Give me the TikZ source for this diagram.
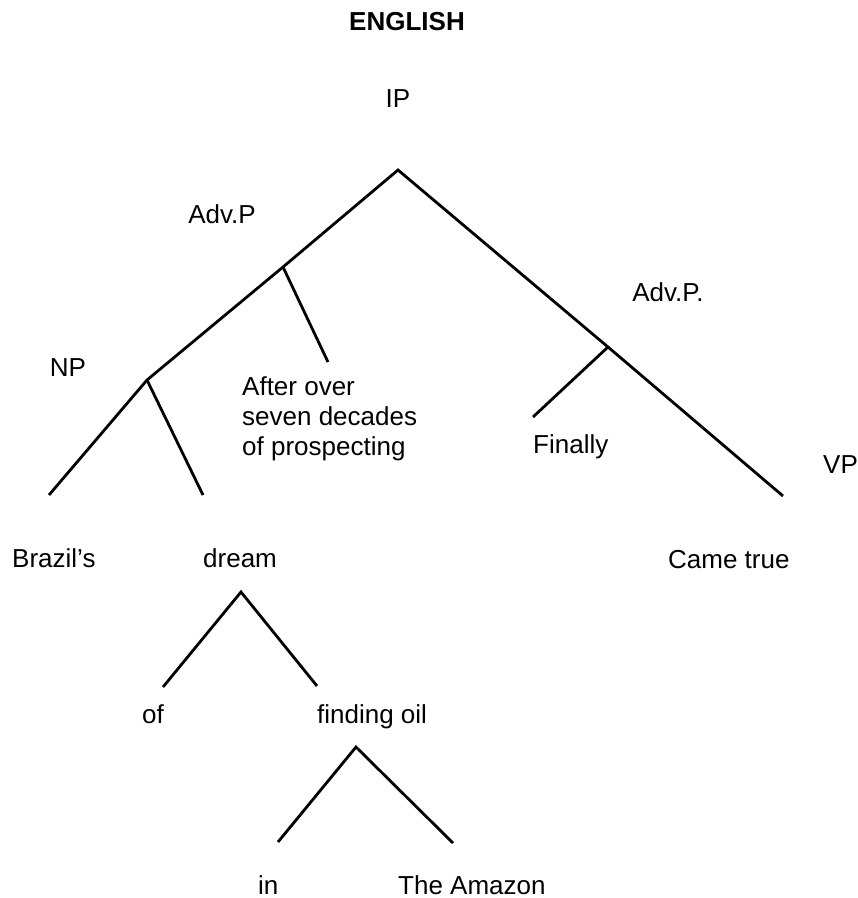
\documentclass[tikz,border=0pt]{standalone}
\usepackage{fontspec}
\setmainfont{Liberation Sans}
\begin{document}
\begin{tikzpicture}[x=1pt,y=-1pt,
  branch/.style={line width=2.8pt,line cap=butt,line join=miter},
  lbl/.style={inner sep=0pt,anchor=base west,font=\fontsize{26}{30}\selectfont},
  lblc/.style={inner sep=0pt,anchor=base,font=\fontsize{26}{30}\selectfont}]
\useasboundingbox (0,0) rectangle (858,898);

% title and category labels
\node[lblc,font=\fontsize{26}{30}\selectfont\bfseries] (title) at (407,30) {ENGLISH};
\node[lblc] (ipl) at (398,107) {IP};
\node[lblc] (advpl) at (222,223) {Adv.P};
\node[lblc] (advpr) at (668,301) {Adv.P.};
\node[lblc] (npl) at (68,376) {NP};
\node[lbl] (vpl) at (823,473) {VP};

% words (the three-line node sits on the baseline of its last line)
\node[lbl,align=left] (after) at (242,455) {After over\\seven decades\\of prospecting};
\node[lbl] (finally) at (533,453) {Finally};
\node[lbl] (brazil) at (12,567) {Brazil’s};
\node[lbl] (dream) at (203,567) {dream};
\node[lbl] (came) at (668,568) {Came true};
\node[lbl] (of) at (142,723) {of};
\node[lbl] (finding) at (317,723) {finding oil};
\node[lbl] (in) at (258,894) {in};
\node[lbl] (amazon) at (398,894) {The Amazon};

% branching points and branch ends
\coordinate (ip) at (398,170);
\coordinate (jadv) at (283,267);
\coordinate (jnp) at (147,380);
\coordinate (jfin) at (608,347);
\coordinate (eafter) at (328,362);
\coordinate (ebrazil) at (49,495);
\coordinate (edream) at (203,495);
\coordinate (evp) at (783,496);
\coordinate (efinally) at (533,417);
\coordinate (jdream) at (241,592);
\coordinate (eof) at (163,687);
\coordinate (efind) at (317,686);
\coordinate (jfind) at (356,747);
\coordinate (ein) at (278,842);
\coordinate (eamazon) at (453,843);

% main tree
\draw[branch] (ebrazil) -- (jnp) -- (jadv) -- (ip) -- (jfin) -- (evp);
\draw[branch] (jadv) -- (eafter);
\draw[branch] (jnp) -- (edream);
\draw[branch] (jfin) -- (efinally);

% sub-trees below "dream"
\draw[branch] (eof) -- (jdream) -- (efind);
\draw[branch] (ein) -- (jfind) -- (eamazon);
\end{tikzpicture}
\end{document}
